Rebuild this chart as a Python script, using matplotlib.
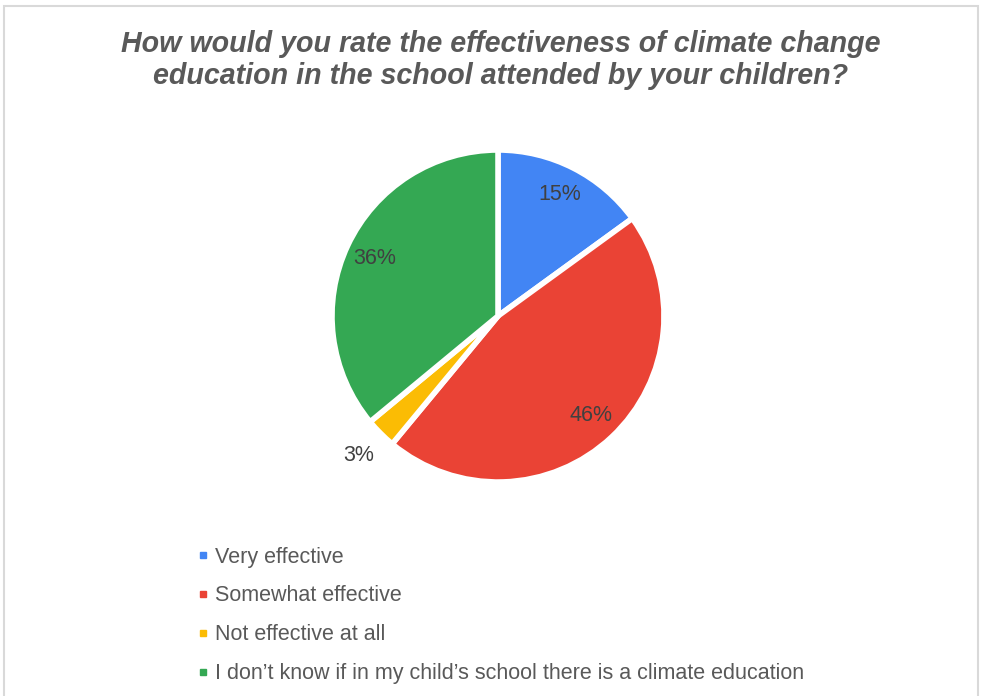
import numpy as np
import matplotlib
matplotlib.use('Agg')
import matplotlib.pyplot as plt
from matplotlib.lines import Line2D
from matplotlib.patches import Rectangle

matplotlib.rcParams['font.family'] = ['Liberation Sans', 'DejaVu Sans']

# 数据
categories = ['Very effective', 'Somewhat effective', 'Not effective at all',
              "I don\u2019t know if in my child\u2019s school there is a climate education"]
values = [15, 46, 3, 36]
colors = ['#4285F4', '#EA4335', '#FBBC04', '#34A853']
title = ('How would you rate the effectiveness of climate change\n'
         'education in the school attended by your children?')

W, H = 981, 696
fig = plt.figure(figsize=(W / 100, H / 100), dpi=100)

# 外框
fig.patches.append(Rectangle((4 / W, -0.01), 974 / W, 1 - 6 / H + 0.01,
                             transform=fig.transFigure, fill=False,
                             edgecolor='#d9d9d9', linewidth=1.5))

# 标题
fig.text(501 / W, 1 - 60 / H, title, ha='center', va='center',
         fontsize=20.6, fontweight='bold', fontstyle='italic',
         color='#595959', linespacing=1.15)

# 饼图
cx, cy, r = 498, 316, 166
ax = fig.add_axes([(cx - r) / W, 1 - (cy + r) / H, 2 * r / W, 2 * r / H])
wedges, texts, autotexts = ax.pie(values, colors=colors, startangle=90,
                                  counterclock=False, radius=1.0,
                                  autopct='%1.0f%%', pctdistance=0.82,
                                  wedgeprops=dict(edgecolor='white', linewidth=4),
                                  textprops=dict(fontsize=15.5, color='#404040'))
ax.set_xlim(-1, 1)
ax.set_ylim(-1, 1)
ax.set_aspect('equal')
ax.axis('off')

# 小扇区标签放到外面
for w, t, v in zip(wedges, autotexts, values):
    if v < 5:
        ang = np.deg2rad((w.theta1 + w.theta2) / 2)
        t.set_position((1.19 * np.cos(ang), 1.19 * np.sin(ang)))

# 图例
handles = [Line2D([], [], marker='s', linestyle='none', markersize=5,
                  markerfacecolor=c, markeredgecolor=c) for c in colors]
fig.legend(handles, categories, loc='upper left',
           bbox_to_anchor=(189 / W, 1 - 538 / H), frameon=False,
           fontsize=15.5, labelcolor='#595959', handlelength=0.5,
           handletextpad=0.3, labelspacing=0.83, borderaxespad=0)

fig.savefig('out.png', dpi=100)
